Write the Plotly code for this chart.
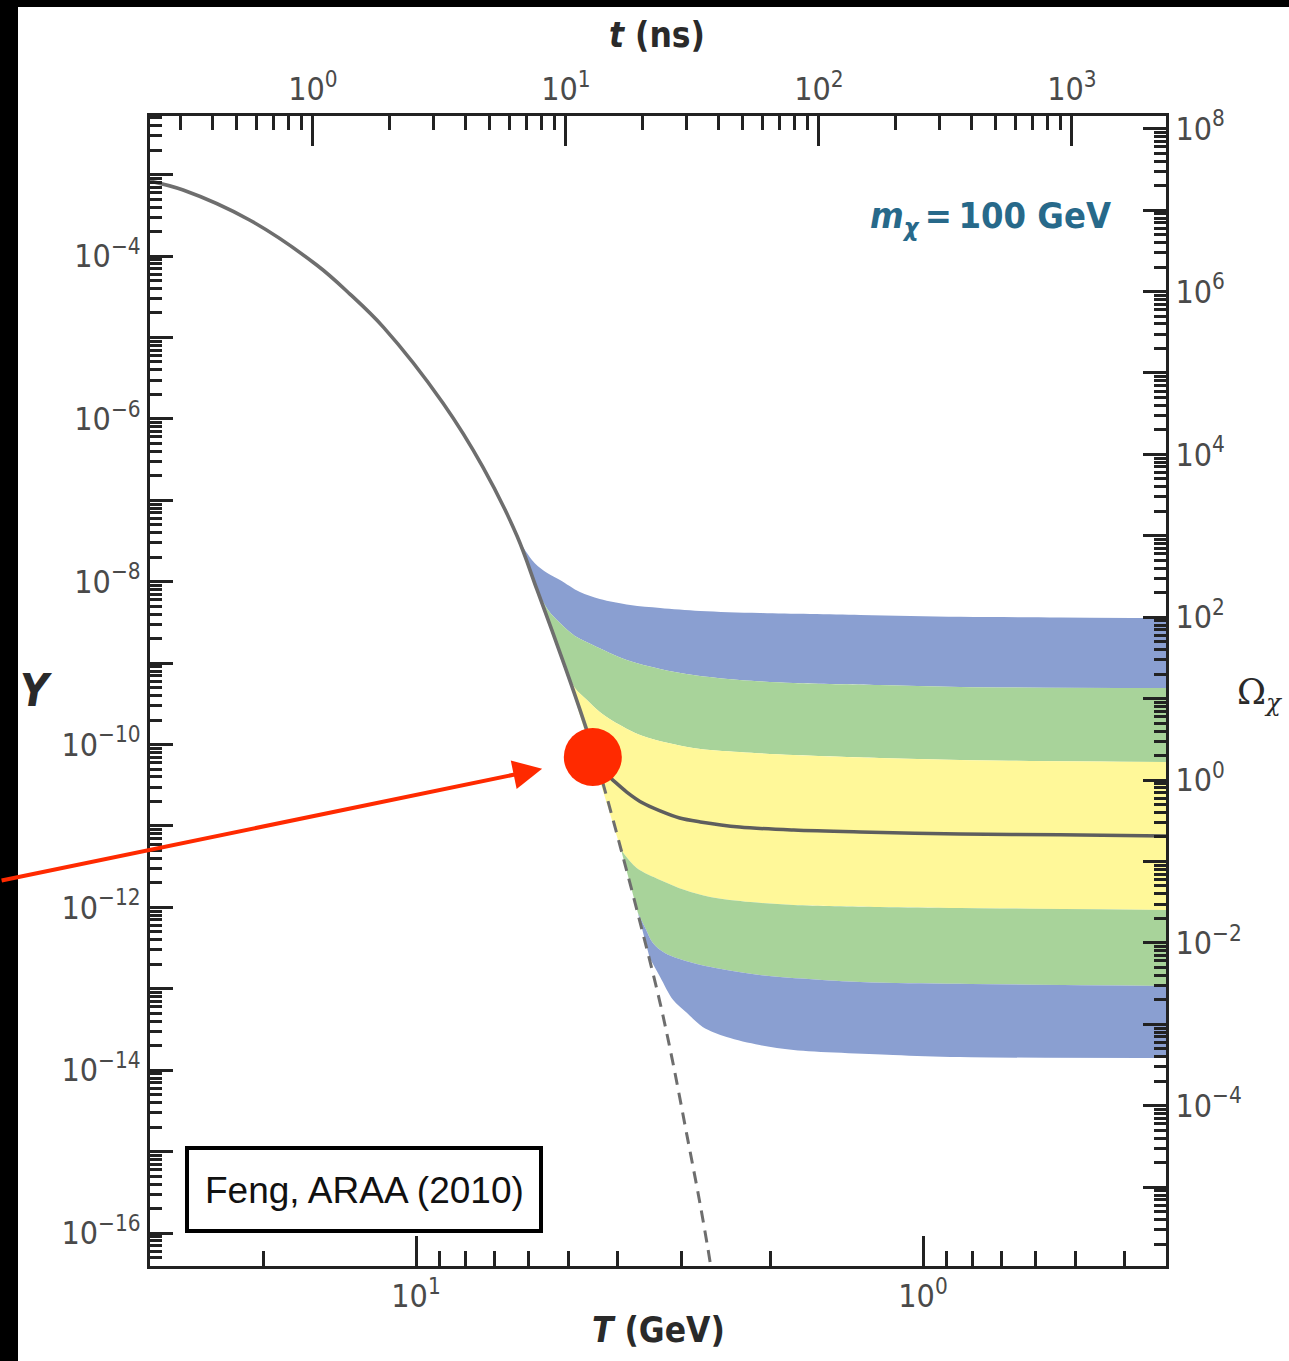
import math
import plotly.graph_objects as go

# ---------------- data ----------------
# Equilibrium abundance Y_eq(T)
T_EQ = [33.5, 28.8, 21.3, 15.7, 13.5, 11.6, 8.85, 7.38, 6.32, 5.77, 5.08, 4.62, 4.40,
        4.28, 3.91, 3.57, 3.30, 3.11, 2.92, 2.75, 2.63, 2.60]
Y_EQ = [8.34e-4, 6.47e-4, 2.77e-4, 7.75e-5, 3.41e-5, 1.34e-5, 1.57e-6, 2.56e-7, 3.64e-8,
        7.91e-9, 8.95e-10, 1.60e-10, 5.93e-11, 3.37e-11, 4.28e-12, 4.84e-13, 6.68e-14,
        1.19e-14, 1.56e-15, 2.21e-16, 4.41e-17, 2.65e-17]
T_FREEZE = 4.40  # equilibrium curve drawn solid above, dashed below

# Relic curves for different annihilation cross sections (top to bottom)
T_C1 = [6.44, 6.15, 5.83, 5.51, 5.20, 4.75, 4.34, 3.78, 3.30, 2.75, 2.10, 1.33, 0.845, 0.537, 0.326]
Y_C1 = [4.70e-8, 2.67e-8, 1.69e-8, 1.28e-8, 1.05e-8, 7.46e-9, 6.12e-9, 5.17e-9, 4.75e-9,
        4.37e-9, 4.12e-9, 3.90e-9, 3.70e-9, 3.64e-9, 3.58e-9]
T_C2 = [5.77, 5.49, 5.20, 4.86, 4.48, 3.84, 3.30, 2.84, 2.30, 1.80, 1.22, 0.845, 0.326]
Y_C2 = [7.91e-9, 4.49e-9, 3.10e-9, 2.15e-9, 1.67e-9, 1.09e-9, 8.47e-10, 7.14e-10, 6.20e-10,
        5.70e-10, 5.38e-10, 5.09e-10, 4.94e-10]
T_C3 = [5.08, 4.86, 4.60, 4.34, 4.09, 3.57, 2.84, 2.30, 1.80, 1.22, 0.845, 0.326]
Y_C3 = [8.95e-10, 4.94e-10, 3.52e-10, 2.51e-10, 1.95e-10, 1.27e-10, 9.06e-11, 8.09e-11,
        7.43e-11, 6.83e-11, 6.45e-11, 6.10e-11]
T_C4 = [4.40, 4.24, 4.09, 3.84, 3.57, 3.30, 3.02, 2.75, 2.30, 1.80, 1.33, 0.845, 0.537, 0.326]
Y_C4 = [5.93e-11, 4.47e-11, 3.66e-11, 2.61e-11, 1.91e-11, 1.53e-11, 1.25e-11, 1.12e-11,
        9.70e-12, 8.91e-12, 8.43e-12, 7.96e-12, 7.79e-12, 7.52e-12]
T_C5 = [3.94, 3.67, 3.30, 2.95, 2.63, 2.19, 1.80, 1.22, 0.845, 0.326]
Y_C5 = [5.06e-12, 3.04e-12, 2.17e-12, 1.63e-12, 1.34e-12, 1.16e-12, 1.07e-12, 1.01e-12,
        9.82e-13, 9.29e-13]
T_C6 = [3.65, 3.53, 3.41, 3.23, 2.84, 2.44, 2.10, 1.33, 0.845, 0.326]
Y_C6 = [8.53e-13, 5.57e-13, 3.65e-13, 2.75e-13, 2.07e-13, 1.70e-13, 1.48e-13, 1.21e-13,
        1.15e-13, 1.08e-13]
T_C7 = [3.46, 3.30, 3.11, 2.92, 2.72, 2.44, 2.10, 1.80, 1.146, 0.845, 0.326]
Y_C7 = [2.39e-13, 1.40e-13, 7.28e-14, 5.05e-14, 3.40e-14, 2.56e-14, 2.04e-14, 1.77e-14,
        1.54e-14, 1.45e-14, 1.41e-14]

# Freeze-out marker and annotations
DOT_T, DOT_Y = 4.48, 7.03e-11
ARROW_TIP_T, ARROW_TIP_Y = 5.64, 5.03e-11
MASS_LABEL = "<i>m</i><sub><i>χ</i></sub>\u2009=\u2009100 GeV"
CITATION = "Feng, ARAA (2010)"

# Axis ticks
T_MAJOR = [10, 1]
T_MINOR = [20, 9, 8, 7, 6, 5, 4, 3, 2, 0.9, 0.8, 0.7, 0.6, 0.5, 0.4]
TIME_MAJOR = [1, 10, 100, 1000]
Y_LABELLED = [-16, -14, -12, -10, -8, -6, -4]
Y_UNLABELLED = [-15, -13, -11, -9, -7, -5, -3]
OMEGA_LABELLED = [-4, -2, 0, 2, 4, 6, 8]
OMEGA_UNLABELLED = [-5, -3, -1, 1, 3, 5, 7]
OMEGA_OVER_Y_LOG = 10.436  # log10(Omega / Y)

# ---------------- styling / layout constants ----------------
W, H = 1289, 1361
L, R, TOP, BOT = 150, 1166, 116, 1266
X_RANGE = [1.5247, -0.4793]         # log10 T (GeV), reversed
TIME_RANGE = [-0.644, 3.372]        # log10 t (ns)
Y_RANGE = [-16.405, -2.280]
OMEGA_RANGE = [Y_RANGE[0] + OMEGA_OVER_Y_LOG, Y_RANGE[1] + OMEGA_OVER_Y_LOG]

BLUE = "#8a9fd1"
GREEN = "#a8d39a"
YELLOW = "#fff899"
LINE_GREY = "#6e6e6e"
RED = "#ff2a00"
TEAL = "#27698a"
AXIS = "#222222"
NARROW = "DejaVu Sans Condensed, DejaVu Sans, sans-serif"


def px(xp):
    return (xp - L) / (R - L)


def py(yp):
    return (BOT - yp) / (BOT - TOP)


def sup(n):
    return "10<sup>" + str(n).replace("-", "−") + "</sup>"


fig = go.Figure()

SPL = dict(shape="spline", smoothing=0.9)
curves = [(T_C1, Y_C1, None), (T_C2, Y_C2, BLUE), (T_C3, Y_C3, GREEN),
          (T_C5, Y_C5, YELLOW), (T_C6, Y_C6, GREEN), (T_C7, Y_C7, BLUE)]
for tt, yy, col in curves:
    fig.add_trace(go.Scatter(x=tt, y=yy, mode="lines",
                             fill="tonexty" if col else "none",
                             fillcolor=col, line=dict(width=0, **SPL),
                             hoverinfo="skip", showlegend=False))

# central relic curve
fig.add_trace(go.Scatter(x=T_C4, y=Y_C4, mode="lines",
                         line=dict(color="#5e5e5e", width=3.5, **SPL), showlegend=False))

# equilibrium curve: solid then dashed
solid = [(t, y) for t, y in zip(T_EQ, Y_EQ) if t >= T_FREEZE]
dashed = [(t, y) for t, y in zip(T_EQ, Y_EQ) if t <= T_FREEZE]
fig.add_trace(go.Scatter(x=[p[0] for p in solid], y=[p[1] for p in solid], mode="lines",
                         line=dict(color=LINE_GREY, width=3.6, shape="spline", smoothing=1.0),
                         showlegend=False))
fig.add_trace(go.Scatter(x=[p[0] for p in dashed], y=[p[1] for p in dashed], mode="lines",
                         line=dict(color=LINE_GREY, width=3, dash="12px,8px",
                                   shape="spline", smoothing=1.0),
                         showlegend=False))

# red freeze-out dot
fig.add_trace(go.Scatter(x=[DOT_T], y=[DOT_Y], mode="markers",
                         marker=dict(size=58, color=RED, line=dict(width=0)),
                         showlegend=False))

# dummy traces to activate secondary axes
for xa, ya, xs, ys in [("x2", "y", [1, 100], [1e-10, 1e-10]),
                       ("x", "y2", [1, 1], [1, 10]),
                       ("x", "y3", [1, 1], [1e-10, 1e-9]),
                       ("x", "y4", [1, 1], [1, 10])]:
    fig.add_trace(go.Scatter(x=xs, y=ys, xaxis=xa, yaxis=ya, mode="lines",
                             line=dict(width=0), hoverinfo="skip", showlegend=False))

tick_font = dict(family=NARROW, size=32, color="#4a4a4a")
common = dict(showline=True, linecolor=AXIS, linewidth=3, ticks="inside", tickcolor=AXIS,
              tickwidth=2.5, showgrid=False, zeroline=False, tickfont=tick_font,
              tickmode="array", type="log", autorange=False)


def minor_vals(lo_dec, hi_dec, rng):
    return [m * 10.0 ** n for n in range(lo_dec, hi_dec) for m in range(2, 10)
            if rng[0] <= math.log10(m * 10.0 ** n) <= rng[1]]


fig.update_layout(
    width=W, height=H,
    margin=dict(l=L, r=W - R, t=TOP, b=H - BOT, pad=0),
    paper_bgcolor="white", plot_bgcolor="white",
    showlegend=False,
    xaxis=dict(common, range=X_RANGE, side="bottom", anchor="y",
               tickvals=T_MAJOR, ticktext=[sup(1), sup(0)], ticklen=30,
               minor=dict(ticks="inside", tickvals=T_MINOR, ticklen=15, tickwidth=2.5,
                          tickcolor=AXIS)),
    xaxis2=dict(common, range=TIME_RANGE, side="top", overlaying="x", anchor="y",
                tickvals=TIME_MAJOR, ticktext=[sup(0), sup(1), sup(2), sup(3)], ticklen=30,
                minor=dict(ticks="inside", tickvals=minor_vals(-1, 3, TIME_RANGE),
                           ticklen=14, tickwidth=2.5, tickcolor=AXIS)),
    yaxis=dict(common, range=Y_RANGE, side="left", anchor="x",
               tickvals=[10.0 ** n for n in Y_LABELLED],
               ticktext=[sup(n) for n in Y_LABELLED], ticklen=23,
               minor=dict(ticks="inside", tickvals=minor_vals(-17, -2, Y_RANGE),
                          ticklen=12, tickwidth=2.5, tickcolor=AXIS)),
    yaxis3=dict(common, range=Y_RANGE, side="left", overlaying="y", anchor="x",
                showline=False, showticklabels=False,
                tickvals=[10.0 ** n for n in Y_UNLABELLED], ticklen=23),
    yaxis2=dict(common, range=OMEGA_RANGE, side="right", overlaying="y", anchor="x",
                tickvals=[10.0 ** n for n in OMEGA_LABELLED],
                ticktext=[sup(n) for n in OMEGA_LABELLED], ticklen=23,
                minor=dict(ticks="inside", tickvals=minor_vals(-6, 9, OMEGA_RANGE),
                           ticklen=12, tickwidth=2.5, tickcolor=AXIS)),
    yaxis4=dict(common, range=OMEGA_RANGE, side="right", overlaying="y", anchor="x",
                showline=False, showticklabels=False,
                tickvals=[10.0 ** n for n in OMEGA_UNLABELLED], ticklen=23),
)

title_font = dict(family=NARROW, size=35, color="#2a2a2a", weight="bold")
annos = [
    dict(text="<i>t</i> (ns)", x=px(657), y=py(35)),
    dict(text="<i>T</i> (GeV)", x=px(658), y=py(1330)),
    dict(text="<i>Y</i>", x=px(36), y=py(690), font=dict(title_font, size=44)),
    dict(text="Ω<sub><i>χ</i></sub>", x=px(1260), y=py(695),
         font=dict(family="DejaVu Serif, Liberation Serif, serif", size=35, color="#2a2a2a")),
    dict(text=MASS_LABEL, x=px(990), y=py(218),
         font=dict(family=NARROW, size=36, color=TEAL, weight="bold")),
    dict(text=CITATION, x=px(364), y=py(1190),
         font=dict(family="Liberation Sans, Arial, sans-serif", size=37, color="#111111")),
]
for a in annos:
    fig.add_annotation(xref="paper", yref="paper", showarrow=False,
                       xanchor="center", yanchor="middle",
                       font=a.get("font", title_font), text=a["text"], x=a["x"], y=a["y"])

# red arrow pointing at the freeze-out dot
fig.add_annotation(x=math.log10(ARROW_TIP_T), y=math.log10(ARROW_TIP_Y), xref="x", yref="y",
                   ax=-542, ay=112, axref="pixel", ayref="pixel", text="",
                   showarrow=True, arrowhead=2, arrowsize=1.45, arrowwidth=4,
                   arrowcolor=RED, standoff=0)

# citation box and black frame
fig.add_shape(type="rect", xref="paper", yref="paper", x0=px(187), x1=px(541),
              y0=py(1231), y1=py(1148), line=dict(color="black", width=4),
              fillcolor="white", layer="above")
fig.add_shape(type="rect", xref="paper", yref="paper", x0=px(-5), x1=px(18),
              y0=py(H + 5), y1=py(-5), line=dict(width=0), fillcolor="black", layer="above")
fig.add_shape(type="rect", xref="paper", yref="paper", x0=px(-5), x1=px(W + 5),
              y0=py(7), y1=py(-5), line=dict(width=0), fillcolor="black", layer="above")

fig.write_html("out.html",
               config={"displayModeBar": False},
               post_script="document.body.style.margin='0';"
                           "document.body.style.overflow='hidden';")
